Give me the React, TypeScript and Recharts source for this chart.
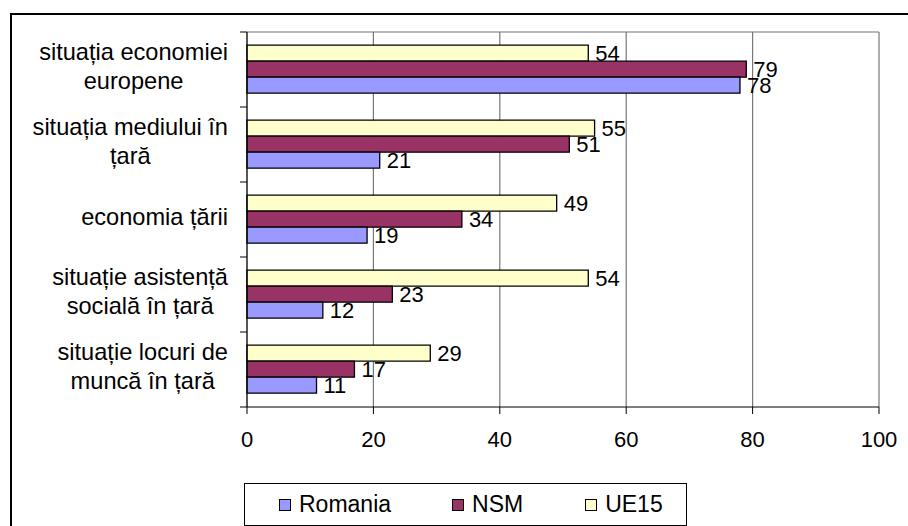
import React from 'react';
import { BarChart, Bar, XAxis, YAxis, CartesianGrid, LabelList } from 'recharts';

const categories = [
  'situația economiei\neuropene',
  'situația mediului în\nțară',
  'economia țării',
  'situație asistență\nsocială în țară',
  'situație locuri de\nmuncă în țară',
];
const romania = [78, 21, 19, 12, 11];
const nsm = [79, 51, 34, 23, 17];
const ue15 = [54, 55, 49, 54, 29];
const xTicks = [0, 20, 40, 60, 80, 100];
const seriesNames = ['Romania', 'NSM', 'UE15'];
const seriesColors = ['#9999FF', '#993366', '#FFFFCC'];

const data = categories.map((c, i) => ({
  category: c,
  Romania: romania[i],
  NSM: nsm[i],
  UE15: ue15[i],
}));

const W = 908;
const H = 526;
const PLOT_LEFT = 247;
const PLOT_RIGHT = 879;
const PLOT_TOP = 32;
const PLOT_BOTTOM = 407;
const FONT = "'Liberation Sans', Arial, sans-serif";
const CAT_SIZE = 23.6;
const NUM_SIZE = 22;
const LEG_SIZE = 23;
const LINE_H = 29;

let ctx: CanvasRenderingContext2D | null = null;
function measure(t: string, size: number) {
  if (!ctx) ctx = document.createElement('canvas').getContext('2d');
  if (!ctx) return t.length * size * 0.5;
  ctx.font = `${size}px 'Liberation Sans'`;
  return ctx.measureText(t).width;
}

const CatTick = (props: any) => {
  const { y, payload, index } = props;
  const band = (PLOT_BOTTOM - PLOT_TOP) / categories.length;
  const lines = String(payload.value).split('\n');
  const maxW = Math.max(...lines.map((l) => measure(l, CAT_SIZE)));
  const cx = PLOT_LEFT - 19 - maxW / 2;
  const n = lines.length;
  return (
    <g>
      <line x1={PLOT_LEFT - 7} x2={PLOT_LEFT} y1={y - band / 2} y2={y - band / 2} stroke="#000" />
      {index === categories.length - 1 && (
        <line x1={PLOT_LEFT - 7} x2={PLOT_LEFT} y1={y + band / 2} y2={y + band / 2} stroke="#000" />
      )}
      <text textAnchor="middle" fontSize={CAT_SIZE} fontFamily={FONT} fill="#000">
        {lines.map((l, i) => (
          <tspan key={i} x={cx} y={y + (i - (n - 1) / 2) * LINE_H - 3} dy="0.35em">
            {l}
          </tspan>
        ))}
      </text>
    </g>
  );
};

const bars = [
  { key: 'UE15', color: seriesColors[2] },
  { key: 'NSM', color: seriesColors[1] },
  { key: 'Romania', color: seriesColors[0] },
];

export default function App() {
  return (
    <div
      style={{
        position: 'absolute',
        left: 0,
        top: 0,
        width: W,
        height: H,
        overflow: 'hidden',
        background: '#fff',
        fontFamily: FONT,
      }}
    >
      <div
        style={{
          position: 'absolute',
          left: 10,
          top: 13,
          width: 1000,
          height: 1000,
          border: '2px solid #000',
          boxSizing: 'border-box',
        }}
      />
      <div style={{ position: 'absolute', left: 0, top: 0 }}>
        <BarChart
          width={W}
          height={H}
          data={data}
          layout="vertical"
          margin={{ top: PLOT_TOP, right: W - PLOT_RIGHT, bottom: 0, left: 0 }}
          barCategoryGap="17.5%"
          barGap={0}
        >
          <CartesianGrid
            stroke="#777"
            strokeWidth={1.2}
            vertical={true}
            horizontal={true}
            horizontalCoordinatesGenerator={(p: any) => [p.offset.top]}
          />
          <XAxis
            type="number"
            domain={[0, 100]}
            ticks={xTicks}
            interval={0}
            height={H - PLOT_BOTTOM}
            axisLine={{ stroke: '#000' }}
            tickLine={{ stroke: '#000' }}
            tickSize={7}
            tickMargin={17}
            tick={{ fontSize: NUM_SIZE, fontFamily: FONT, fill: '#000' }}
          />
          <YAxis
            type="category"
            dataKey="category"
            width={PLOT_LEFT}
            interval={0}
            axisLine={{ stroke: '#000' }}
            tickLine={false}
            tick={<CatTick />}
          />
          {bars.map((b) => (
            <Bar
              key={b.key}
              dataKey={b.key}
              fill={b.color}
              stroke="#000"
              strokeWidth={1.3}
              isAnimationActive={false}
            >
              <LabelList
                dataKey={b.key}
                position="right"
                offset={7}
                fontSize={NUM_SIZE}
                fontFamily={FONT}
                fill="#000"
              />
            </Bar>
          ))}
        </BarChart>
      </div>
      <div
        style={{
          position: 'absolute',
          left: 244,
          top: 483,
          width: 443,
          height: 43,
          border: '1px solid #000',
          boxSizing: 'border-box',
          display: 'flex',
          alignItems: 'center',
          paddingLeft: 34,
          background: '#fff',
        }}
      >
        {seriesNames.map((s, i) => (
          <div
            key={s}
            style={{
              display: 'flex',
              alignItems: 'center',
              marginRight: i === 0 ? 61 : 62,
              fontSize: LEG_SIZE,
              lineHeight: 1,
            }}
          >
            <span
              style={{
                display: 'inline-block',
                width: 12,
                height: 12,
                border: '1px solid #000',
                boxSizing: 'border-box',
                background: seriesColors[i],
                marginRight: 8,
              }}
            />
            <span>{s}</span>
          </div>
        ))}
      </div>
    </div>
  );
}
